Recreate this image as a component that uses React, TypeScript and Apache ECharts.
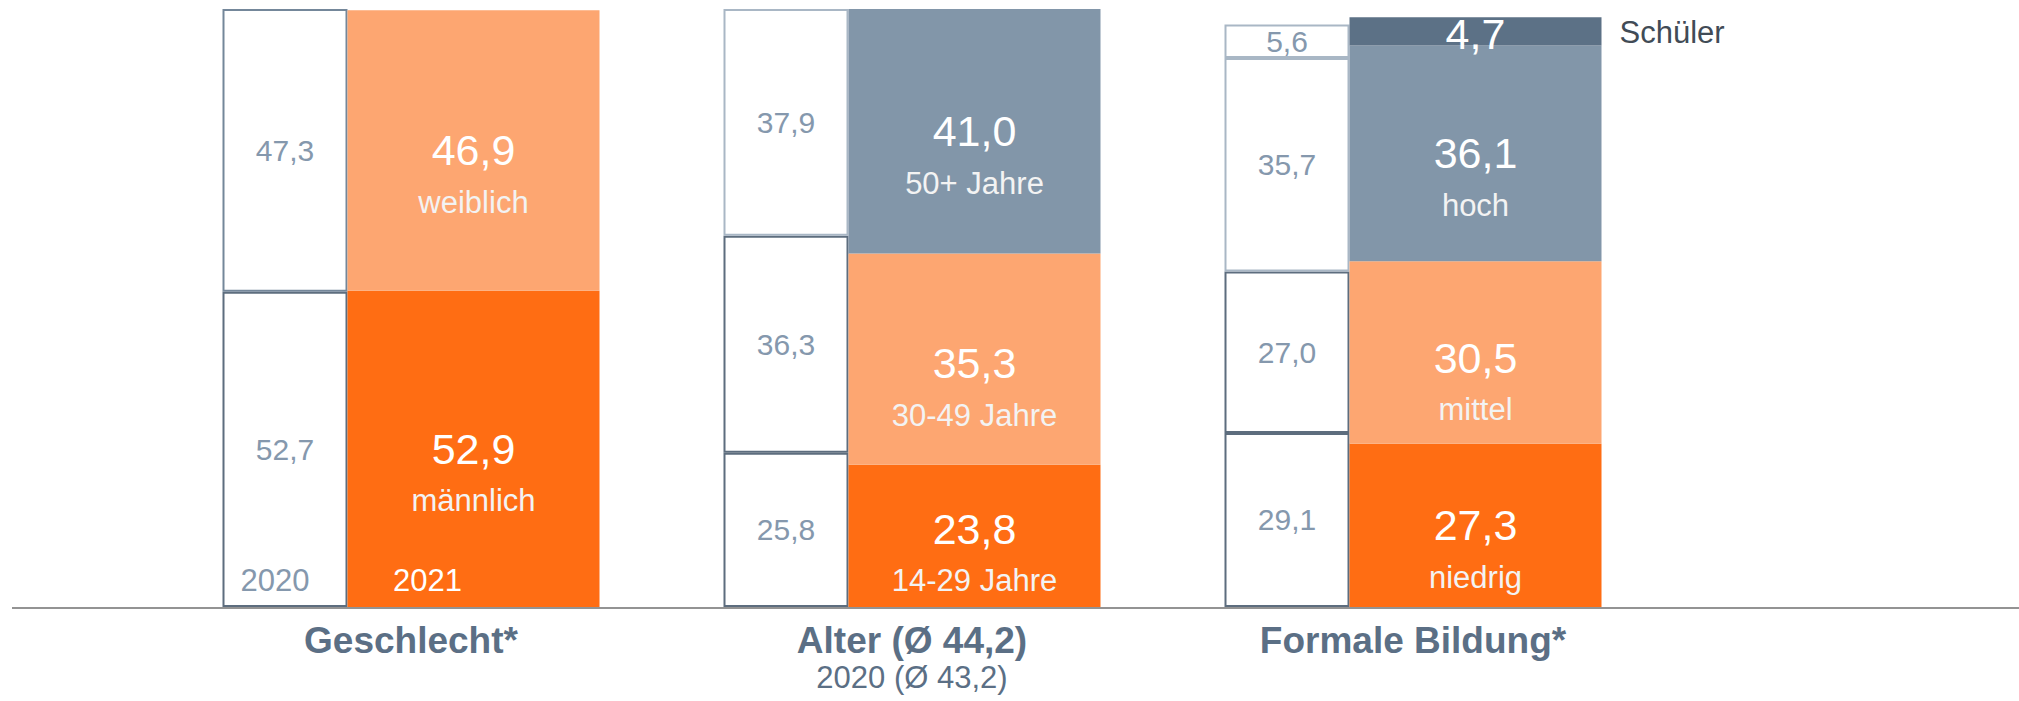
import React, { useEffect, useRef } from 'react';
import * as echarts from 'echarts';

// ---------- data ----------
const categories = ['Geschlecht*', 'Alter (Ø 44,2)', 'Formale Bildung*'];
const subtitles = ['', '2020 (Ø 43,2)', ''];

// 2020 – segments from bottom to top
const y2020Seg1 = [52.7, 25.8, 29.1];
const y2020Seg2 = [47.3, 36.3, 27.0];
const y2020Seg3 = [null, 37.9, 35.7];
const y2020Seg4 = [null, null, 5.6];

// 2021 – segments from bottom to top
const y2021Seg1 = [52.9, 23.8, 27.3];
const y2021Seg2 = [46.9, 35.3, 30.5];
const y2021Seg3 = [null, 41.0, 36.1];
const y2021Seg4 = [null, null, 4.7];

const names1 = ['männlich', '14-29 Jahre', 'niedrig'];
const names2 = ['weiblich', '30-49 Jahre', 'mittel'];
const names3 = ['', '50+ Jahre', 'hoch'];
const names4 = ['', '', ''];

const yearLabels = ['2020', '2021'];
const yearMarker = [0, null, null];
const sideLabel = 'Schüler';
const sideMarker = [null, null, 0];

// ---------- styles ----------
const FONT = '"Liberation Sans", Arial, Helvetica, sans-serif';
const COL = {
  dark: '#FF6D13',
  light: '#FDA671',
  blue: '#8296A9',
  slate: '#5C7186',
  txt20: '#8598AD',
  axis: '#5B6F85',
  borderDark: '#5D6D7E',
  borderMid: '#74879A',
  borderLight: '#A9B7C5',
  side: '#414B56',
};
const W20 = 125;
const W21 = 252;
const GRID_BOTTOM = 94;
const H = 701;
// vertical fine-tuning of the 2021 label blocks (px), per segment and category
const NUDGE1 = [0, -7, 0];
const NUDGE2 = [0, 4, 5];
const NUDGE_NONE = [0, 0, 0];

const fmt = (v: number) => v.toFixed(1).replace('.', ',');

function s2020(name: string, data: (number | null)[], borderColor: string, overrides: (string | null)[] = []) {
  return {
    type: 'bar',
    name,
    stack: '2020',
    barWidth: W20,
    barGap: '0%',
    silent: true,
    data: data.map((v, i) =>
      v == null ? null : overrides[i] ? { value: v, itemStyle: { borderColor: overrides[i] } } : v
    ),
    itemStyle: { color: '#FFFFFF', borderColor, borderWidth: 2 },
    label: {
      show: true,
      position: 'inside',
      formatter: (p: any) => fmt(p.value),
      color: COL.txt20,
      fontSize: 30,
      fontFamily: FONT,
    },
  };
}

function s2021(name: string, data: (number | null)[], names: string[], color: string, nudge: number[]) {
  const hasNames = names.some((n) => n);
  const base = hasNames ? 26 : 3;
  return {
    type: 'bar',
    name,
    stack: '2021',
    barWidth: W21,
    barGap: '0%',
    silent: true,
    data: data.map((v, i) => (v == null ? null : { value: v, label: { offset: [0, base + nudge[i]] } })),
    itemStyle: { color },
    label: {
      show: true,
      position: 'inside',
      offset: [0, base],
      formatter: (p: any) =>
        names[p.dataIndex] ? `{v|${fmt(p.value)}}\n{n|${names[p.dataIndex]}}` : `{v|${fmt(p.value)}}`,
      rich: {
        v: { fontSize: 43, lineHeight: 52, color: '#FFFFFF', fontFamily: FONT },
        n: { fontSize: 31, lineHeight: 52, color: '#F3F3F3', fontFamily: FONT },
      },
    },
  };
}

function marker(name: string, stack: string, width: number, data: (number | null)[], label: any) {
  return {
    type: 'bar',
    name,
    stack,
    barWidth: width,
    barGap: '0%',
    silent: true,
    data,
    itemStyle: { color: 'rgba(0,0,0,0)', borderWidth: 0 },
    label: { show: true, fontFamily: FONT, ...label },
  };
}

export default function App() {
  const ref = useRef<HTMLDivElement>(null);
  useEffect(() => {
    if (!ref.current) return;
    const chart = echarts.init(ref.current, undefined, { renderer: 'svg' });
    const baseY = H - GRID_BOTTOM + 1;
    chart.setOption({
      animation: false,
      grid: { left: 160.5, right: 355.5, top: 9, bottom: GRID_BOTTOM },
      xAxis: {
        type: 'category',
        data: categories,
        axisLine: { show: false },
        axisTick: { show: false },
        axisLabel: {
          interval: 0,
          margin: 13,
          formatter: (val: string, idx: number) =>
            subtitles[idx] ? `{b|${val}}\n{s|${subtitles[idx]}}` : `{b|${val}}`,
          rich: {
            b: { fontSize: 37, fontWeight: 'bold', color: COL.axis, lineHeight: 40, fontFamily: FONT },
            s: { fontSize: 31, color: COL.axis, lineHeight: 35, fontFamily: FONT },
          },
        },
      },
      yAxis: { type: 'value', min: 0, max: 100, show: false },
      graphic: [
        {
          type: 'line',
          z: 0,
          shape: { x1: 12, y1: baseY, x2: 2019, y2: baseY },
          style: { stroke: '#6F6F6F', lineWidth: 1.5 },
        },
      ],
      series: [
        marker('Jahr 2020', '2020', W20, yearMarker, {
          position: 'top',
          distance: 11,
          offset: [-10, 0],
          formatter: yearLabels[0],
          color: COL.txt20,
          fontSize: 31,
        }),
        s2020('2020 Segment 1', y2020Seg1, COL.borderDark),
        s2020('2020 Segment 2', y2020Seg2, COL.borderDark, [COL.borderMid, null, null]),
        s2020('2020 Segment 3', y2020Seg3, COL.borderLight),
        s2020('2020 Segment 4', y2020Seg4, COL.borderLight),
        marker('Jahr 2021', '2021', W21, yearMarker, {
          position: 'top',
          distance: 11,
          offset: [-46, 0],
          formatter: yearLabels[1],
          color: '#FFFFFF',
          fontSize: 31,
        }),
        s2021('2021 Segment 1', y2021Seg1, names1, COL.dark, NUDGE1),
        s2021('2021 Segment 2', y2021Seg2, names2, COL.light, NUDGE2),
        s2021('2021 Segment 3', y2021Seg3, names3, COL.blue, NUDGE_NONE),
        s2021('2021 Segment 4', y2021Seg4, names4, COL.slate, NUDGE_NONE),
        marker('Schüler', '2021', W21, sideMarker, {
          position: 'right',
          distance: 18,
          offset: [0, 15],
          formatter: sideLabel,
          color: COL.side,
          fontSize: 31,
        }),
      ],
    });
    return () => chart.dispose();
  }, []);
  return <div ref={ref} style={{ position: 'absolute', left: 0, top: 0, width: 2019, height: 701 }} />;
}
